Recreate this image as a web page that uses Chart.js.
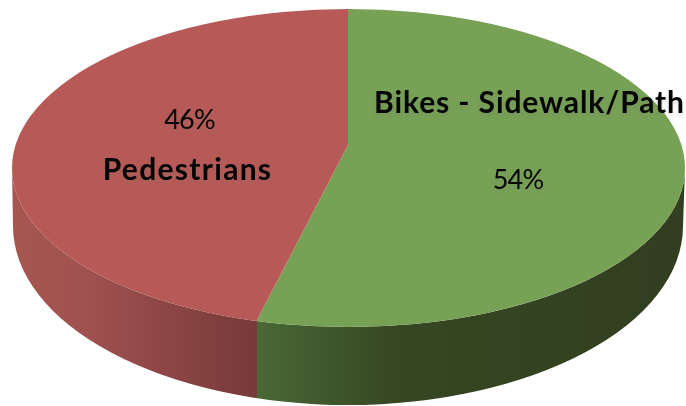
<!DOCTYPE html>
<html>
<head>
<meta charset="utf-8">
<style>
  html, body { margin:0; padding:0; background:#fff; }
  canvas { display:block; }
</style>
<script src="https://cdn.jsdelivr.net/npm/chart.js@4"></script>
</head>
<body>
<canvas id="pie" width="686" height="406"></canvas>
<script>
const categories = ['Bikes - Sidewalk/Path', 'Pedestrians'];
const shares = [54, 46];
const topColors = ['#77a155', '#b75a57'];

// tilted disc
const rim = { x:348.5, y:168, rx:336.5, ry:159 };
const base = { x:348, y:226, rx:335, ry:179 };
const apex = { x:348, y:145 };   // perspective moves the centre up
const squash = 2.025;

// where a slice edge leaves the apex and hits the rim
function rimPoint(angle) {
  const dx = Math.cos(angle), dy = Math.sin(angle) / squash;
  const ox = apex.x - rim.x, oy = apex.y - rim.y;
  const a = dx*dx/(rim.rx*rim.rx) + dy*dy/(rim.ry*rim.ry);
  const b = 2*(ox*dx/(rim.rx*rim.rx) + oy*dy/(rim.ry*rim.ry));
  const c = ox*ox/(rim.rx*rim.rx) + oy*oy/(rim.ry*rim.ry) - 1;
  const t = (-b + Math.sqrt(b*b - 4*a*c)) / (2*a);
  return { x: apex.x + t*dx, y: apex.y + t*dy };
}

const pie3d = {
  id:'pie3d',
  beforeDatasetsDraw(chart) {
    const ctx = chart.ctx;
    const arcs = chart.getDatasetMeta(0).data;
    const split = rimPoint(arcs[0].endAngle).x / chart.width;

    // side wall
    const g = ctx.createLinearGradient(0, 0, chart.width, 0);
    g.addColorStop(0, '#a8564f');
    g.addColorStop(0.12, '#a05250');
    g.addColorStop(split, '#773939');
    g.addColorStop(split, '#4b6836');
    g.addColorStop(0.58, '#364722');
    g.addColorStop(1, '#313e20');
    ctx.save();
    ctx.beginPath();
    ctx.ellipse(rim.x, rim.y, rim.rx, rim.ry, 0, 0, Math.PI);
    ctx.ellipse(base.x, base.y, base.rx, base.ry, 0, Math.PI, 0, true);
    ctx.closePath();
    ctx.fillStyle = g;
    ctx.fill();
    ctx.restore();

    // top face: library arcs, squashed and clipped to the rim
    const arc = arcs[0];
    const scale = 420 / arc.outerRadius;
    ctx.save();
    ctx.beginPath();
    ctx.ellipse(rim.x, rim.y, rim.rx, rim.ry, 0, 0, Math.PI*2);
    ctx.clip();
    ctx.translate(apex.x, apex.y);
    ctx.scale(scale, scale / squash);
    ctx.translate(-arc.x, -arc.y);
  },
  afterDatasetsDraw(chart) {
    const ctx = chart.ctx;
    ctx.restore();

    ctx.save();
    ctx.fillStyle = '#050505';
    ctx.textAlign = 'center';
    ctx.textBaseline = 'alphabetic';
    ctx.shadowColor = 'rgba(120,120,120,0.22)';
    ctx.shadowBlur = 4;
    ctx.shadowOffsetY = 3;
    ctx.font = 'bold 30px Lato';
    ctx.letterSpacing = '0.9px';
    ctx.fillText(categories[0], 529.5, 113);
    ctx.letterSpacing = '1.3px';
    ctx.fillText(categories[1], 187.5, 180);
    ctx.font = '27px Lato';
    ctx.letterSpacing = '-0.8px';
    ctx.fillText(shares[0] + '%', 518, 189);
    ctx.fillText(shares[1] + '%', 189.5, 129);
    ctx.restore();
  }
};

new Chart(document.getElementById('pie'), {
  type:'pie',
  data:{
    labels: categories,
    datasets:[{ data: shares, backgroundColor: topColors, borderWidth:0, clip:false }]
  },
  options:{
    responsive:false,
    animation:false,
    layout:{ padding:0 },
    plugins:{ legend:{ display:false }, tooltip:{ enabled:false } }
  },
  plugins:[pie3d]
});
</script>
</body>
</html>
